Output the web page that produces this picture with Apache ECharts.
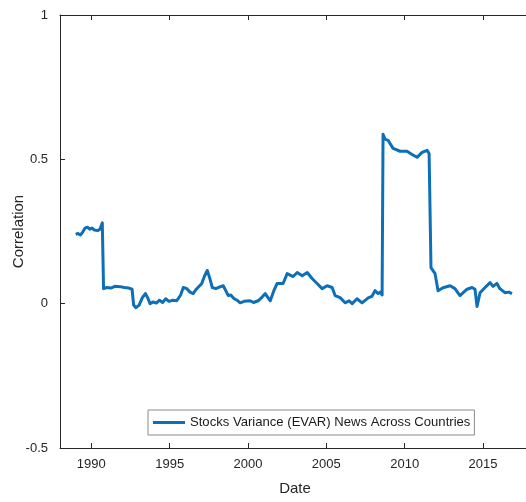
<!DOCTYPE html>
<html>
<head>
<meta charset="utf-8">
<script src="https://cdn.jsdelivr.net/npm/echarts@6/dist/echarts.min.js"></script>
<style>
  html, body { margin: 0; padding: 0; background: #fff; }
  #chart { width: 526px; height: 502px; }
</style>
</head>
<body>
<div id="chart"></div>
<script>
// Rolling correlation of stock variance news across countries
const dates = [
  1989.00, 1989.15, 1989.30, 1989.45, 1989.60, 1989.75, 1989.90, 1990.05, 1990.20, 1990.40,
  1990.55, 1990.70, 1990.78, 1991.00, 1991.25, 1991.50, 1991.85, 1992.10, 1992.40, 1992.60,
  1992.70, 1992.85, 1993.05, 1993.25, 1993.45, 1993.60, 1993.75, 1993.95, 1994.15, 1994.35,
  1994.55, 1994.75, 1994.95, 1995.20, 1995.45, 1995.70, 1995.87, 1996.10, 1996.30, 1996.50,
  1996.70, 1997.05, 1997.22, 1997.40, 1997.55, 1997.72, 1997.95, 1998.20, 1998.42, 1998.58,
  1998.74, 1998.90, 1999.10, 1999.30, 1999.50, 1999.75, 2000.14, 2000.35, 2000.65, 2000.85,
  2001.10, 2001.42, 2001.65, 2001.86, 2002.24, 2002.50, 2002.88, 2003.14, 2003.46, 2003.78,
  2004.09, 2004.41, 2004.73, 2005.05, 2005.37, 2005.56, 2005.88, 2006.20, 2006.45, 2006.65,
  2006.96, 2007.28, 2007.67, 2007.90, 2008.11, 2008.30, 2008.43, 2008.56, 2008.62, 2008.75,
  2008.94, 2009.26, 2009.71, 2010.15, 2010.47, 2010.79, 2011.11, 2011.43, 2011.56, 2011.68,
  2011.94, 2012.13, 2012.45, 2012.90, 2013.21, 2013.53, 2013.98, 2014.30, 2014.49, 2014.62,
  2014.81, 2015.13, 2015.45, 2015.64, 2015.89, 2016.08, 2016.40, 2016.65, 2016.85
];
const correlation = [
  0.240, 0.243, 0.238, 0.248, 0.262, 0.265, 0.258, 0.262, 0.255, 0.253,
  0.258, 0.280, 0.052, 0.056, 0.054, 0.060, 0.059, 0.056, 0.054, 0.050,
  -0.005, -0.014, -0.005, 0.020, 0.035, 0.020, 0.000, 0.006, 0.002, 0.012,
  0.004, 0.017, 0.008, 0.012, 0.010, 0.030, 0.056, 0.052, 0.040, 0.035,
  0.050, 0.070, 0.095, 0.115, 0.090, 0.056, 0.052, 0.058, 0.062, 0.045,
  0.028, 0.030, 0.018, 0.012, 0.003, 0.008, 0.010, 0.004, 0.010, 0.020,
  0.035, 0.010, 0.045, 0.070, 0.070, 0.104, 0.094, 0.108, 0.097, 0.108,
  0.087, 0.070, 0.052, 0.062, 0.056, 0.028, 0.021, 0.003, 0.010, 0.000,
  0.017, 0.003, 0.020, 0.025, 0.045, 0.035, 0.040, 0.030, 0.587, 0.570,
  0.566, 0.538, 0.528, 0.528, 0.517, 0.507, 0.524, 0.531, 0.520, 0.125,
  0.104, 0.045, 0.055, 0.062, 0.052, 0.028, 0.050, 0.056, 0.050, -0.010,
  0.038, 0.056, 0.073, 0.060, 0.070, 0.052, 0.038, 0.040, 0.035
];
const xTicks = [1990, 1995, 2000, 2005, 2010, 2015];
const seriesName = 'Stocks Variance (EVAR) News Across Countries';

const chart = echarts.init(document.getElementById('chart'), null, { renderer: 'canvas' });
const axisColor = '#262626';
const font = 'Liberation Sans, Arial, sans-serif';

chart.setOption({
  backgroundColor: '#ffffff',
  animation: false,
  grid: { left: 60, top: 15, width: 470, bottom: 54, containLabel: false, outerBoundsMode: 'none' },
  legend: {
    data: [seriesName],
    left: 148, top: 410,
    icon: 'rect', itemWidth: 32, itemHeight: 3, itemGap: 5,
    borderColor: '#8a8a8a', borderWidth: 1, backgroundColor: '#ffffff',
    padding: [6, 4, 6, 5],
    textStyle: { fontFamily: font, fontSize: 13.1, color: '#1a1a1a' }
  },
  xAxis: [
    {
      type: 'value', min: 1988, max: 2018, position: 'bottom',
      name: 'Date', nameLocation: 'middle', nameGap: 33,
      nameTextStyle: { fontFamily: font, fontSize: 15, color: '#262626' },
      axisLine: { show: true, onZero: false, lineStyle: { color: axisColor, width: 1 } },
      axisTick: { inside: true, length: 5, customValues: xTicks, lineStyle: { color: axisColor } },
      axisLabel: {
        customValues: xTicks, margin: 10, fontFamily: font, fontSize: 13, color: '#262626',
        formatter: v => String(v)
      },
      splitLine: { show: false }
    },
    {
      type: 'value', min: 1988, max: 2018, position: 'top',
      axisLine: { show: true, onZero: false, lineStyle: { color: axisColor, width: 1 } },
      axisTick: { inside: true, length: 5, customValues: xTicks, lineStyle: { color: axisColor } },
      axisLabel: { show: false },
      splitLine: { show: false }
    }
  ],
  yAxis: [
    {
      type: 'value', min: -0.5, max: 1, interval: 0.5, position: 'left',
      name: 'Correlation', nameLocation: 'middle', nameGap: 34, nameRotate: 90,
      nameMoveOverlap: false,
      nameTextStyle: { fontFamily: font, fontSize: 15, color: '#262626' },
      axisLine: { show: true, onZero: false, lineStyle: { color: axisColor, width: 1 } },
      axisTick: { show: true, inside: true, length: 5, lineStyle: { color: axisColor } },
      axisLabel: { margin: 12, fontFamily: font, fontSize: 13, color: '#262626' },
      splitLine: { show: false }
    }
  ],
  series: [
    {
      name: seriesName,
      type: 'line',
      xAxisIndex: 0,
      data: dates.map((d, i) => [d, correlation[i]]),
      showSymbol: false,
      lineStyle: { color: '#0d6fb8', width: 3, join: 'round' },
      itemStyle: { color: '#0d6fb8' }
    }
  ]
});
</script>
</body>
</html>
